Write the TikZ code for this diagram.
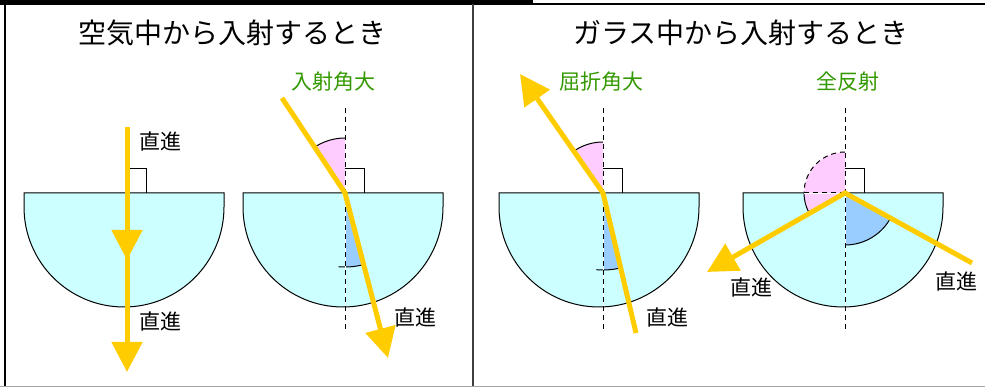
\documentclass[tikz,border=0pt]{standalone}
\usepackage{fontspec}
\setmainfont{Noto Sans CJK JP}
\usetikzlibrary{arrows.meta}
\definecolor{glassblue}{HTML}{CCFFFF}
\definecolor{rayyellow}{HTML}{FFCC00}
\definecolor{pinkangle}{HTML}{FFCCFF}
\definecolor{blueangle}{HTML}{99CCFF}
\definecolor{notegreen}{HTML}{339900}

\begin{document}
\begin{tikzpicture}[x=1pt,y=1pt,>={Triangle[length=30pt,width=30pt]},
      glass/.style={fill=glassblue,draw=black,line width=1pt},
      ray/.style={draw=rayyellow,line width=5pt},
      normal line/.style={draw=black,line width=1pt,dash pattern=on 5pt off 4pt,preaction={draw=white,solid}},
      right angle/.style={draw=black,line width=1pt},
      title text/.style={font=\fontsize{28}{30}\selectfont,inner sep=0pt},
      note/.style={font=\fontsize{21}{23}\selectfont,inner sep=0pt},
      green note/.style={note,text=notegreen}]
  \useasboundingbox (0,0) rectangle (985,387);
  \fill (0,387) rectangle (533,384);
  \draw[line width=2pt] (0,383) -- (985,383);
  \draw[line width=2pt] (5,383) -- (5,1);
  \draw[line width=2pt,black!75] (473,383) -- (473,1);
  \draw[black!35] (0,1) -- (985,1);

  \node[title text] (t1) at (232,354) {空気中から入射するとき};
  \node[title text] (t2) at (741,354) {ガラス中から入射するとき};

  \foreach \c in {124,343,599,843}
    \draw[glass] ({\c-100},194) -- ({\c+100},194) -- ({\c+100},180)
      arc[start angle=0,end angle=-180,radius=100] -- cycle;

  \coordinate (v1) at (127,194);
  \coordinate (v2) at (345,194);
  \coordinate (v3) at (603,194);
  \coordinate (v4) at (845,194);

  \fill[pinkangle] (v2) -- ++(90:55) arc[start angle=90,end angle=123.6,radius=55] -- cycle;
  \draw[line width=1pt] (v2) ++(90:55) arc[start angle=90,end angle=123.6,radius=55];
  \fill[blueangle] (v2) -- ++(-90:74) arc[start angle=-90,end angle=-75.4,radius=74] -- cycle;
  \draw[line width=1pt] (v2) ++(-95:74) arc[start angle=-95,end angle=-75.4,radius=74];

  \fill[pinkangle] (v3) -- ++(90:51) arc[start angle=90,end angle=124.9,radius=51] -- cycle;
  \draw[line width=1pt] (v3) ++(90:51) arc[start angle=90,end angle=124.9,radius=51];
  \fill[blueangle] (v3) -- ++(-90:77) arc[start angle=-90,end angle=-76.7,radius=77] -- cycle;
  \draw[line width=1pt] (v3) ++(-95:77) arc[start angle=-95,end angle=-76.7,radius=77];

  \fill[pinkangle] (v4) -- ++(90:41) arc[start angle=90,end angle=209.8,radius=41] -- cycle;
  \draw[normal line] (v4) ++(90:41) arc[start angle=90,end angle=180,radius=41];
  \draw[line width=1pt] (v4) ++(180:41) arc[start angle=180,end angle=209.8,radius=41];
  \draw[normal line] (v4) -- ++(180:41);
  \fill[blueangle] (v4) -- ++(-90:52) arc[start angle=-90,end angle=-28.9,radius=52] -- cycle;
  \draw[line width=1pt] (v4) ++(-90:52) arc[start angle=-90,end angle=-28.9,radius=52];

  \foreach \v in {v2,v3,v4}
    \draw[normal line] (\v) ++(0,85) -- ++(0,-223);
  \foreach \v in {v1,v2,v3,v4}
    \draw[right angle] (\v) ++(0,24) -- ++(19,0) -- ++(0,-24);

  \coordinate (s1) at (127,260);
  \coordinate (m1) at (127,127);
  \coordinate (e1) at (127,15);
  \draw[ray,->] (s1) -- (e1);
  \draw[ray,->] (s1) -- (m1);

  \coordinate (s2) at (282,289);
  \coordinate (e2) at (388,29);
  \draw[ray,->] (s2) -- (v2) -- (e2);

  \coordinate (s3) at (636,54);
  \coordinate (e3) at (520,313);
  \draw[ray,->] (s3) -- (v3) -- (e3);

  \coordinate (s4) at (972,124);
  \coordinate (e4) at (707,115);
  \draw[ray,->] (s4) -- (v4) -- (e4);

  \node[note] (n1) at (160,245) {直進};
  \node[note] (n2) at (160,65) {直進};
  \node[green note] (g2) at (333,305) {入射角大};
  \node[note] (n3) at (415,69) {直進};
  \node[green note] (g3) at (601,305) {屈折角大};
  \node[note] (n4) at (667,69) {直進};
  \node[green note] (g4) at (848,305) {全反射};
  \node[note] (n5) at (751,99) {直進};
  \node[note] (n6) at (956,105) {直進};
\end{tikzpicture}
\end{document}
